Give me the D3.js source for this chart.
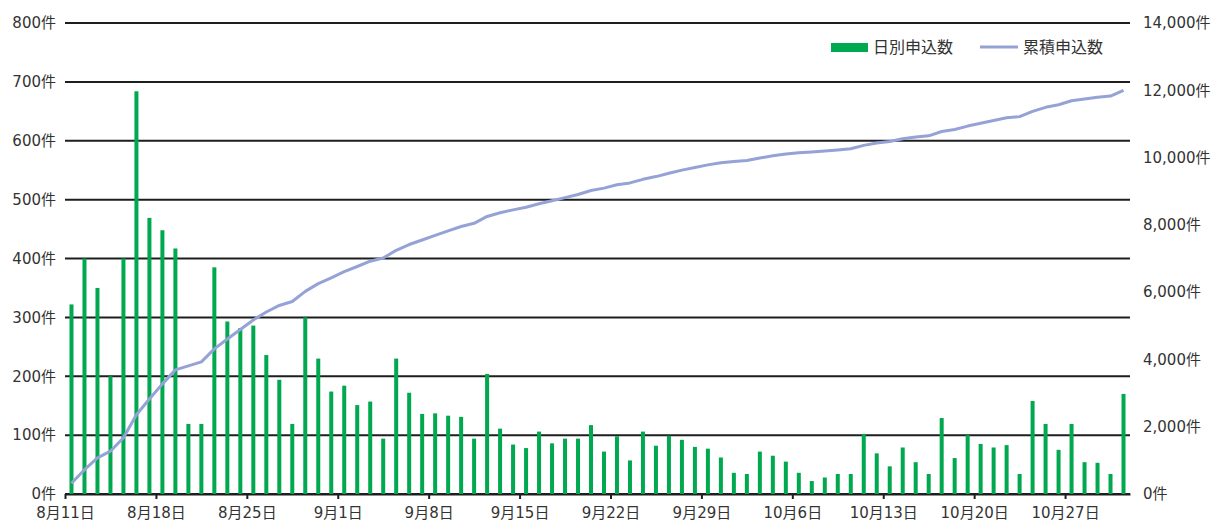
<!DOCTYPE html>
<html>
<head>
<meta charset="utf-8">
<script src="https://cdn.jsdelivr.net/npm/d3@7"></script>
<style>
  body { margin: 0; background: #fff; }
  text { font-family: "DejaVu Sans", "Noto Sans CJK JP", sans-serif; fill: #333; }
</style>
</head>
<body>
<svg id="chart" width="1213" height="522"></svg>
<script>
// daily applications, Aug 11 .. Oct 31
const daily = [
  322, 400, 350, 200, 400, 684, 469, 448, 417, 119, 119, 385, 293, 282, 286, 236, 194, 119, 300, 230, 174,
  184, 151, 157, 94, 230, 172, 136, 137, 133, 131, 94, 204, 111, 84, 78, 106, 86, 94, 94, 117, 72, 98, 57, 106, 82, 99, 92, 80, 77, 62,
  36, 34, 72, 65, 55, 36, 22, 28, 34, 34, 102, 69, 47, 79, 54, 34, 129, 61, 100, 85, 79, 83, 34, 158, 119, 75, 119, 54, 53, 34, 170
];
// cumulative applications
const cumulative = [
  322, 722, 1072, 1272, 1672, 2356, 2825, 3273, 3690, 3809, 3928, 4313, 4606, 4888, 5174, 5410, 5604, 5723, 6023, 6253, 6427,
  6611, 6762, 6919, 7013, 7243, 7415, 7551, 7688, 7821, 7952, 8046, 8250, 8361, 8445, 8523, 8629, 8715, 8809, 8903, 9020, 9092, 9190, 9247, 9353, 9435, 9534, 9626, 9706, 9783, 9845,
  9881, 9915, 9987, 10052, 10107, 10143, 10165, 10193, 10227, 10261, 10363, 10432, 10479, 10558, 10612, 10646, 10775, 10836, 10936, 11021, 11100, 11183, 11217, 11375, 11494, 11569, 11688, 11742, 11795, 11829, 11999
];
const xTickLabels = ["8月11日", "8月18日", "8月25日", "9月1日", "9月8日", "9月15日", "9月22日", "9月29日", "10月6日", "10月13日", "10月20日", "10月27日"];
const leftTicks = [0, 100, 200, 300, 400, 500, 600, 700, 800];
const rightTicks = [0, 2000, 4000, 6000, 8000, 10000, 12000, 14000];
const seriesNames = ["日別申込数", "累積申込数"];

const start = new Date(2020, 7, 11);
const end = new Date(2020, 10, 1);
const days = d3.timeDay.range(start, end);
const tickDates = xTickLabels.map((l, i) => d3.timeDay.offset(start, i * 7));

const svg = d3.select("#chart");
const plotL = 65, plotR = 1130, plotT = 23, plotB = 494;

const x = d3.scaleTime().domain([start, end]).range([plotL, plotR]);
const yL = d3.scaleLinear().domain([0, 800]).range([plotB, plotT]);
const yR = d3.scaleLinear().domain([0, 14000]).range([plotB, plotT]);
const dayW = x(d3.timeDay.offset(start, 1)) - x(start);
const mid = d => x(d) + dayW / 2;

// gridlines
svg.append("g")
  .selectAll("line").data(leftTicks).join("line")
  .attr("x1", plotL).attr("x2", plotR)
  .attr("y1", d => yL(d)).attr("y2", d => yL(d))
  .attr("stroke", "#1e1e1e").attr("stroke-width", 2);

// left axis labels
svg.append("g").selectAll("text").data(leftTicks).join("text")
  .attr("x", 56).attr("y", d => yL(d)).attr("dy", "0.35em")
  .attr("text-anchor", "end").attr("font-size", 15)
  .text(d => d + "件");

// right axis labels
svg.append("g").selectAll("text").data(rightTicks).join("text")
  .attr("x", 1143).attr("y", d => yR(d)).attr("dy", "0.35em")
  .attr("text-anchor", "start").attr("font-size", 15)
  .text(d => d3.format(",")(d) + "件");

// x axis
const xAxis = svg.append("g")
  .attr("transform", `translate(0,${plotB})`)
  .call(d3.axisBottom(x).tickValues(tickDates).tickFormat((d, i) => xTickLabels[i]).tickSize(5).tickSizeOuter(0));
xAxis.select(".domain").attr("stroke", "#1e1e1e").attr("stroke-width", 2);
xAxis.selectAll(".tick line").attr("stroke", "#1e1e1e").attr("stroke-width", 2);
xAxis.selectAll(".tick text").attr("font-size", 15).attr("fill", "#333")
  .attr("font-family", "'DejaVu Sans', 'Noto Sans CJK JP', sans-serif").attr("dy", "1.04em");

// bars
const barW = 4;
svg.append("g").selectAll("rect").data(days).join("rect")
  .attr("x", d => mid(d) - barW / 2)
  .attr("width", barW)
  .attr("y", (d, i) => yL(daily[i]))
  .attr("height", (d, i) => plotB - yL(daily[i]))
  .attr("fill", "#00a84f");

// cumulative line
const line = d3.line()
  .x((d, i) => mid(days[i]))
  .y(d => yR(d));
svg.append("path").datum(cumulative)
  .attr("d", line)
  .attr("fill", "none")
  .attr("stroke", "#95a2d6")
  .attr("stroke-width", 3)
  .attr("stroke-linejoin", "round");

// legend
const lg = svg.append("g");
lg.append("rect").attr("x", 831).attr("y", 43).attr("width", 37).attr("height", 9).attr("fill", "#00a84f");
lg.append("text").attr("x", 873).attr("y", 47).attr("dy", "0.35em").attr("font-size", 16).text(seriesNames[0]);
lg.append("line").attr("x1", 980).attr("x2", 1018).attr("y1", 47).attr("y2", 47)
  .attr("stroke", "#95a2d6").attr("stroke-width", 3);
lg.append("text").attr("x", 1023).attr("y", 47).attr("dy", "0.35em").attr("font-size", 16).text(seriesNames[1]);
</script>
</body>
</html>
